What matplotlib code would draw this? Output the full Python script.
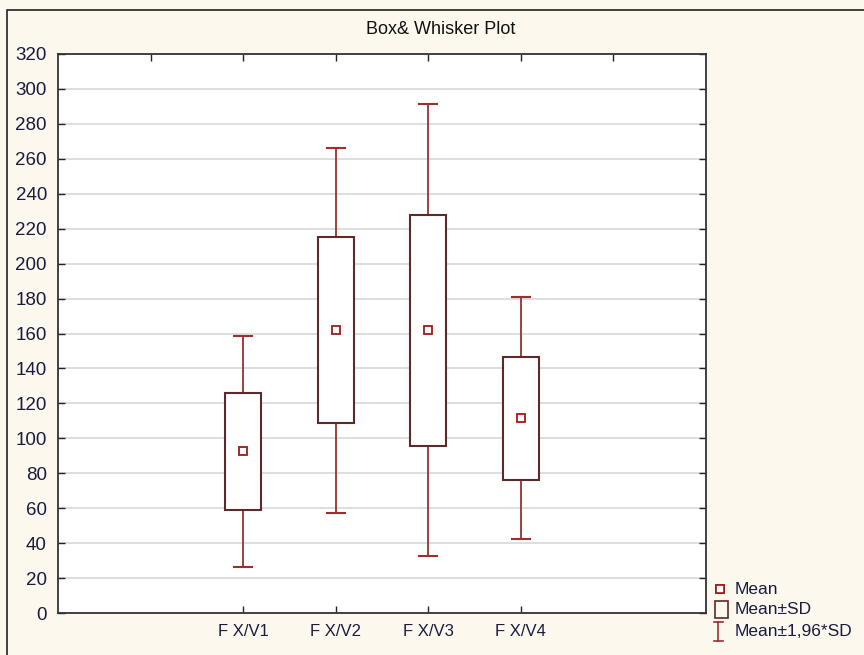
import matplotlib
matplotlib.use("Agg")
import matplotlib.pyplot as plt
from matplotlib.patches import Rectangle
from matplotlib.lines import Line2D

# ---- data ----
categories = ["F X/V1", "F X/V2", "F X/V3", "F X/V4"]
means = [92.5, 162.0, 162.0, 111.8]
box_low = [58.8, 109.0, 95.5, 76.0]      # Mean - SD
box_high = [126.2, 215.0, 227.8, 146.8]  # Mean + SD
whisk_low = [26.6, 57.5, 32.4, 42.3]     # Mean - 1.96*SD
whisk_high = [158.6, 266.0, 291.4, 180.8]  # Mean + 1.96*SD
y_ticks = list(range(0, 321, 20))

BG = "#fdf8ee"
WHISK = "#9b2f2f"
BOXC = "#5b2b2b"
MEANC = "#a01818"
TXT = "#1b1b40"

plt.rcParams['font.family'] = ['Liberation Sans', 'DejaVu Sans']

fig = plt.figure(figsize=(8.64, 6.55), dpi=100, facecolor=BG)
W, H = 864, 655
ax = fig.add_axes([58 / W, 1 - 613 / H, (706 - 58) / W, (613 - 54) / H])
ax.set_facecolor("white")

positions = [2, 3, 4, 5]
bw = 0.39
cw = 0.19
for x, m, bl, bh, wl, wh in zip(positions, means, box_low, box_high, whisk_low, whisk_high):
    ax.plot([x, x], [bh, wh], color=WHISK, lw=1.3, zorder=3)
    ax.plot([x, x], [wl, bl], color=WHISK, lw=1.3, zorder=3)
    ax.plot([x - cw / 2, x + cw / 2], [wh, wh], color=WHISK, lw=1.5, zorder=3)
    ax.plot([x - cw / 2, x + cw / 2], [wl, wl], color=WHISK, lw=1.5, zorder=3)
    ax.add_patch(Rectangle((x - bw / 2, bl), bw, bh - bl, facecolor="white",
                           edgecolor=BOXC, lw=1.5, zorder=4))
    ax.plot([x], [m], marker="s", ms=6, mfc="white", mec=MEANC, mew=1.3, zorder=5)

ax.set_xlim(0, 7)
ax.set_ylim(0, 320)
ax.set_yticks(y_ticks)
ax.set_yticklabels([str(v) for v in y_ticks], fontsize=13.5, color=TXT)
ax.set_xticks(positions)
ax.set_xticklabels(categories, fontsize=12, color=TXT)
ax.grid(axis="y", color="#d8d8d8", lw=1.2, zorder=0)
ax.set_axisbelow(True)
ax.tick_params(axis="y", direction="in", length=5, width=1, left=True, right=True,
               pad=8, colors="#222222", labelcolor=TXT)
ax.tick_params(axis="x", direction="in", length=5, width=1, pad=8,
               colors="#222222", labelcolor=TXT)
for s in ax.spines.values():
    s.set_color("#333333")
    s.set_linewidth(1.3)

# top ticks at every integer
sec = ax.secondary_xaxis("top")
sec.set_xticks(range(1, 7))
sec.set_xticklabels([])
sec.tick_params(direction="in", length=5, width=1, colors="#222222")
sec.spines["top"].set_visible(False)

# title
fig.text(441 / W, 1 - 30 / H, "Box& Whisker Plot", ha="center", va="center",
         fontsize=13, color="#111111")

# outer frame
fig.patches.append(Rectangle((7 / W, -0.05), 1.2, 1 - 10 / H + 0.05, transform=fig.transFigure,
                             fill=False, edgecolor="#222222", lw=1.2))

# legend (manual)
def px(x, y):
    return x / W, 1 - y / H

fig.add_artist(Line2D(*zip(px(720, 589), px(720, 589)), marker="s", ms=5.5, mfc="white",
                      mec=MEANC, mew=1.2, transform=fig.transFigure))
fig.text(*px(735, 589), "Mean", fontsize=12.5, color=TXT, va="center", ha="left")
fig.patches.append(Rectangle(px(715, 618), 13 / W, 17 / H, transform=fig.transFigure,
                             fill=False, edgecolor=BOXC, lw=1.2))
fig.text(*px(735, 610), "Mean±SD", fontsize=12.5, color=TXT, va="center", ha="left")
fig.add_artist(Line2D([718 / W, 718 / W], [1 - 622 / H, 1 - 641 / H], color=WHISK, lw=1.2,
                      transform=fig.transFigure))
fig.add_artist(Line2D([714 / W, 723 / W], [1 - 622 / H, 1 - 622 / H], color=WHISK, lw=1.2,
                      transform=fig.transFigure))
fig.add_artist(Line2D([714 / W, 723 / W], [1 - 641 / H, 1 - 641 / H], color=WHISK, lw=1.2,
                      transform=fig.transFigure))
fig.text(*px(735, 632), "Mean±1,96*SD", fontsize=12.5, color=TXT, va="center", ha="left")

fig.savefig("out.png", dpi=100, facecolor=BG)
